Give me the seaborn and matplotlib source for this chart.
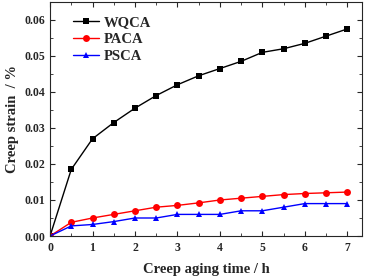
import matplotlib
matplotlib.use("Agg")
import matplotlib.pyplot as plt
from matplotlib.ticker import MultipleLocator, FormatStrFormatter
import seaborn as sns
import pandas as pd

time_h = [0, 0.5, 1, 1.5, 2, 2.5, 3, 3.5, 4, 4.5, 5, 5.5, 6, 6.5, 7]
wqca = [0, 0.0185, 0.027, 0.0315, 0.0355, 0.039, 0.042, 0.0445, 0.0465, 0.0485, 0.051, 0.052, 0.0535, 0.0555, 0.0575]
paca = [0, 0.0038, 0.005, 0.006, 0.007, 0.008, 0.0085, 0.0092, 0.010, 0.0105, 0.011, 0.0115, 0.0118, 0.012, 0.0122]
psca = [0, 0.0028, 0.0032, 0.004, 0.005, 0.005, 0.006, 0.006, 0.006, 0.007, 0.007, 0.008, 0.009, 0.009, 0.009]
series = ["WQCA", "PACA", "PSCA"]

df = pd.DataFrame({"time": time_h * 3,
                   "strain": wqca + paca + psca,
                   "alloy": [s for s in series for _ in time_h]})

sns.set_style("ticks")
plt.rcParams['font.family'] = ['Liberation Serif', 'DejaVu Serif']
plt.rcParams['font.weight'] = 'bold'

fig = plt.figure(figsize=(3.68, 2.77), dpi=100)
ax = fig.add_axes([0.136, 0.148, 0.848, 0.845])
colors = {"WQCA": "black", "PACA": "red", "PSCA": "blue"}
markers = {"WQCA": "s", "PACA": "o", "PSCA": "^"}
sns.lineplot(data=df, x="time", y="strain", hue="alloy", style="alloy",
             palette=colors, markers=markers, dashes=False, markersize=5,
             markeredgewidth=0, linewidth=1, ax=ax)

ax.set_xlim(0, 7.35)
ax.set_ylim(0, 0.065)
ax.xaxis.set_major_locator(MultipleLocator(1))
ax.xaxis.set_minor_locator(MultipleLocator(0.5))
ax.yaxis.set_major_locator(MultipleLocator(0.01))
ax.yaxis.set_minor_locator(MultipleLocator(0.005))
ax.yaxis.set_major_formatter(FormatStrFormatter('%.2f'))
ax.tick_params(which='both', direction='in', top=True, right=True, labelsize=8.5)
ax.tick_params(axis='x', pad=4)
ax.tick_params(which='major', length=3.5)
ax.tick_params(which='minor', length=2)
for lab in ax.get_xticklabels() + ax.get_yticklabels():
    lab.set_fontweight('bold')
for sp in ax.spines.values():
    sp.set_linewidth(0.8)
ax.set_xlabel("Creep aging time / h", fontsize=10.5, fontweight='bold', labelpad=7)
ax.set_ylabel("Creep strain  / %", fontsize=10.5, fontweight='bold')
leg = ax.legend(loc='upper left', frameon=False, fontsize=10.5, handlelength=1.8,
                handletextpad=0.3, labelspacing=0.27, borderaxespad=0,
                bbox_to_anchor=(0.055, 0.966))
for t in leg.get_texts():
    t.set_fontweight('bold')

fig.savefig("out.png", dpi=100)
